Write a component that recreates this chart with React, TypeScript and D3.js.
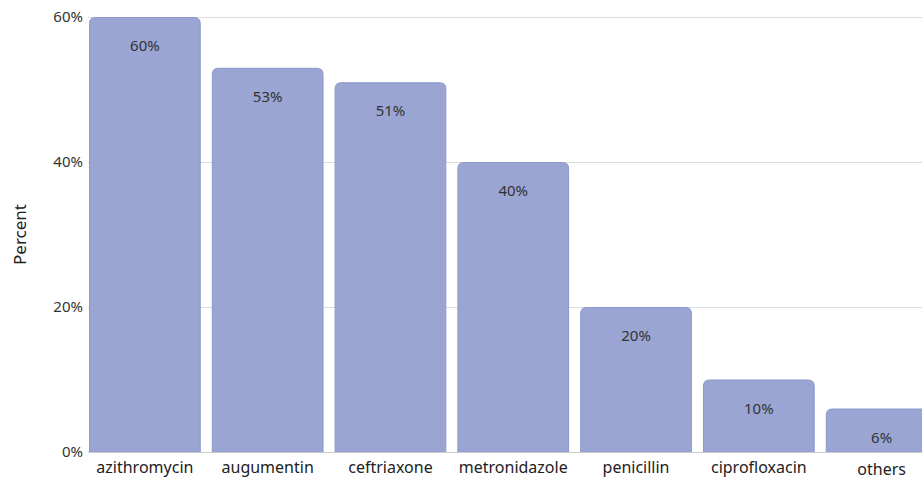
import { useEffect, useRef } from "react";
import * as d3 from "d3";

const drugs = ["azithromycin", "augumentin", "ceftriaxone", "metronidazole", "penicillin", "ciprofloxacin", "others"];
const percents = [60, 53, 51, 40, 20, 10, 6];
const yTicks = [0, 20, 40, 60];

export default function App() {
  const ref = useRef<SVGSVGElement | null>(null);

  useEffect(() => {
    document.body.style.margin = "0";
    if (!ref.current) return;
    const svg = d3.select(ref.current);
    svg.selectAll("*").remove();

    const width = 922;
    const left = 89;
    const font = "'Noto Sans', 'Open Sans', sans-serif";

    const x = d3.scaleBand<string>()
      .domain(drugs)
      .range([left, 937.5])
      .paddingInner(0.09)
      .paddingOuter(0);

    const y = d3.scaleLinear().domain([0, 60]).range([452, 17]);

    // grid
    svg.append("g")
      .selectAll("line")
      .data(yTicks.filter(t => t > 0))
      .join("line")
      .attr("x1", left - 1)
      .attr("x2", width)
      .attr("y1", d => y(d) + 0.5)
      .attr("y2", d => y(d) + 0.5)
      .attr("stroke", "#dcdcdc")
      .attr("stroke-width", 1);

    svg.append("g")
      .selectAll("text")
      .data(yTicks)
      .join("text")
      .attr("x", left - 6)
      .attr("y", d => y(d))
      .attr("dy", "0.35em")
      .attr("text-anchor", "end")
      .attr("font-family", font)
      .attr("font-size", 15)
      .attr("fill", "#333")
      .text(d => `${d}%`);

    svg.append("text")
      .attr("transform", `translate(26,${y(30)}) rotate(-90)`)
      .attr("text-anchor", "middle")
      .attr("font-family", font)
      .attr("font-size", 17)
      .attr("fill", "#222")
      .text("Percent");

    const r = 6;
    const barPath = (x0: number, w: number, top: number, base: number) => {
      const rr = Math.min(r, (base - top));
      return `M${x0},${base}V${top + rr}Q${x0},${top} ${x0 + rr},${top}H${x0 + w - rr}Q${x0 + w},${top} ${x0 + w},${top + rr}V${base}Z`;
    };

    const bars = svg.append("g");
    drugs.forEach((d, i) => {
      const x0 = x(d)!;
      const w = x.bandwidth();
      bars.append("path")
        .attr("d", barPath(x0 + 0.5, w - 1, y(percents[i]) + 0.5, y(0)))
        .attr("fill", "#9aa5d4")
        .attr("stroke", "#8c98cc")
        .attr("stroke-width", 1);
      bars.append("text")
        .attr("x", x0 + w / 2)
        .attr("y", y(percents[i]) + 34)
        .attr("text-anchor", "middle")
        .attr("font-family", font)
        .attr("font-size", 15)
        .attr("fill", "#333")
        .text(`${percents[i]}%`);
    });

    // baseline
    svg.append("line")
      .attr("x1", left - 1)
      .attr("x2", width)
      .attr("y1", y(0) + 0.5)
      .attr("y2", y(0) + 0.5)
      .attr("stroke", "#cccccc");

    svg.append("g")
      .selectAll("text")
      .data(drugs)
      .join("text")
      .attr("x", d => x(d)! + x.bandwidth() / 2)
      .attr("y", d => (d === "others" ? 475 : 473))
      .attr("text-anchor", "middle")
      .attr("font-family", font)
      .attr("font-size", 16)
      .attr("fill", "#222")
      .text(d => d);
  }, []);

  return <svg ref={ref} width={922} height={479} style={{ display: "block" }} />;
}
